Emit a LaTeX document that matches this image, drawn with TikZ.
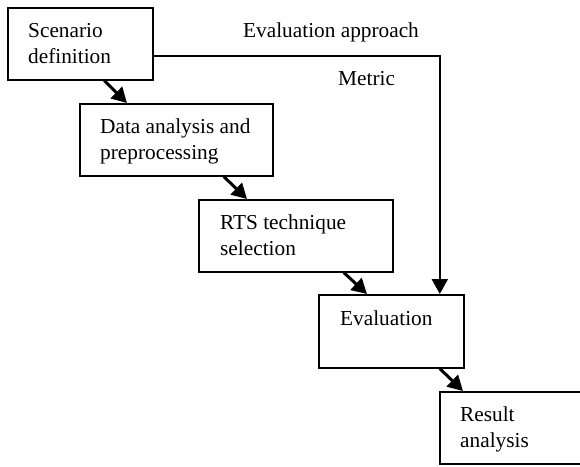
\documentclass[tikz,border=0pt]{standalone}
\usepackage{fontspec}
\setmainfont{Liberation Serif}
\usetikzlibrary{arrows.meta,calc}

\tikzset{
    stage/.style={draw, line width=1.6pt, anchor=north west, inner sep=0pt},
    stagetext/.style={anchor=base west, align=left, inner sep=0pt},
    flow/.style={line width=3pt, -{Triangle[length=15pt,width=16pt]}},
}

\begin{document}
\begin{tikzpicture}[x=1pt,y=-1pt,font=\fontsize{21.3}{26}\selectfont]
    \useasboundingbox (0,0) rectangle (580,466);
    % the stages
    \node[stage, minimum width=145, minimum height=72] (scen) at (7,7) {};
    \node[stage, minimum width=193, minimum height=72] (data) at (79,103) {};
    \node[stage, minimum width=194, minimum height=72] (rts) at (198,199) {};
    \node[stage, minimum width=145, minimum height=73] (eval) at (318,294) {};
    \node[stage, minimum width=160, minimum height=72] (res) at (439,391) {};
    % base of a two-line text is its last line
    \node[stagetext] (scent) at ($(scen.north west)+(21,56)$) {Scenario\\definition};
    \node[stagetext] (datat) at ($(data.north west)+(21,56)$) {Data analysis and\\preprocessing};
    \node[stagetext] (rtst) at ($(rts.north west)+(22,56)$) {RTS technique\\selection};
    \node[stagetext] (evalt) at ($(eval.north west)+(22,31)$) {Evaluation};
    \node[stagetext] (rest) at ($(res.north west)+(21,56)$) {Result\\analysis};
    % steps
    \draw[flow] ([xshift=24]scen.south) -- ([xshift=48]data.north west);
    \draw[flow] ([xshift=47.5]data.south) -- ([xshift=49]rts.north west);
    \draw[flow] ([xshift=48]rts.south) -- ([xshift=49]eval.north west);
    \draw[flow] ([xshift=48.5]eval.south) -- ([xshift=24]res.north west);
    % evaluation approach / metric
    \draw[line width=2.2pt, -{Triangle[length=15pt,width=16pt]}]
        ([yshift=-12]scen.east) -| ([xshift=48.5]eval.north);
    \node[stagetext] (appr) at (243,37) {Evaluation approach};
    \node[stagetext] (metr) at (338,85) {Metric};
\end{tikzpicture}
\end{document}
